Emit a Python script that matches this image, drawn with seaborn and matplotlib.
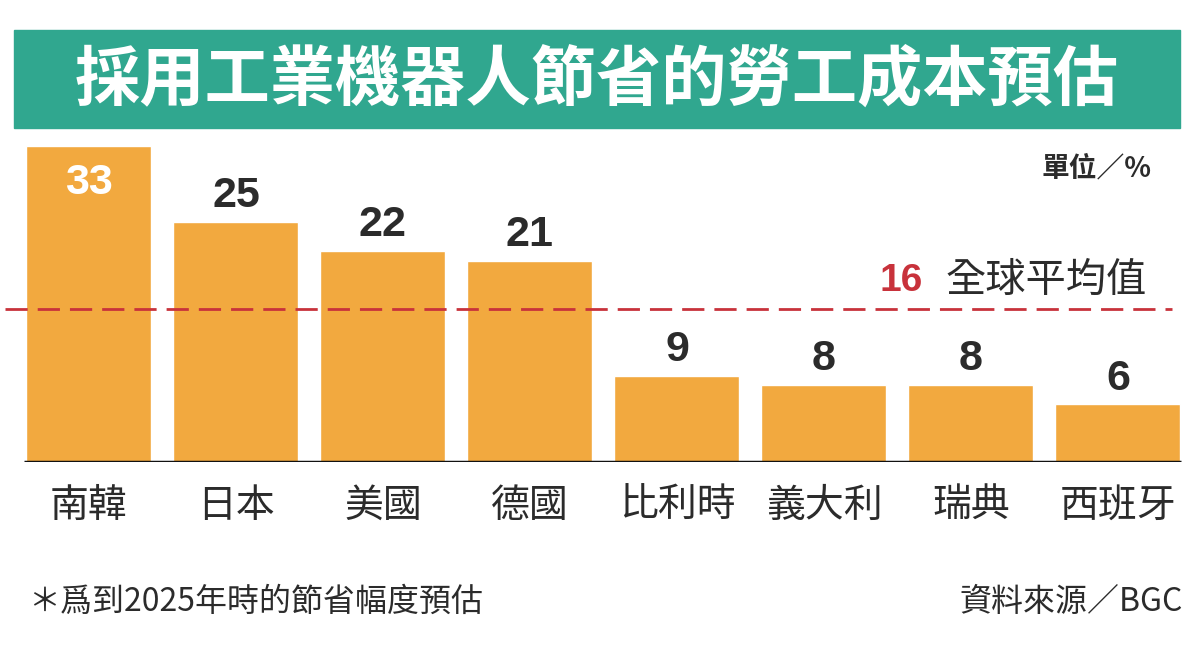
import matplotlib
matplotlib.use("Agg")
import matplotlib.pyplot as plt
import seaborn as sns
import pandas as pd
from matplotlib.patches import Rectangle

# 資料
countries = ["南韓", "日本", "美國", "德國", "比利時", "義大利", "瑞典", "西班牙"]
savings = [33, 25, 22, 21, 9, 8, 8, 6]
global_avg = 16

title = "採用工業機器人節省的勞工成本預估"
unit_text = "單位／%"
avg_text = "全球平均值"
note_text = "＊爲到2025年時的節省幅度預估"
source_text = "資料來源／BGC"

bar_color = "#f2a93f"
teal = "#30a78f"
red = "#c8323b"
dark = "#2b2b2b"

sns.set_style("white")
plt.rcParams['font.family'] = ['Noto Sans CJK TC', 'DejaVu Sans']
num_font = ['Liberation Sans', 'DejaVu Sans']

df = pd.DataFrame({"country": countries, "value": savings})

fig = plt.figure(figsize=(12, 6.47), dpi=100)
ax = fig.add_axes([0, 185 / 647, 1, (462 - 135) / 647])

sns.barplot(data=df, x="country", y="value", color=bar_color,
            width=0.85, saturation=1, ax=ax)

ax.set_xlim(-0.605, 7.558)
ax.set_ylim(0, 34.1)
sns.despine(ax=ax, left=True, bottom=True)
ax.set_yticks([])
ax.set_xlabel("")
ax.set_ylabel("")
ax.tick_params(axis="x", length=0, pad=17, labelsize=28, labelcolor=dark)

# 底線
ax.plot([-0.44, 7.43], [0, 0], color="#111111", lw=2.5, solid_capstyle="butt")

# 全球平均線
ax.axhline(global_avg, xmin=0.004, xmax=0.977, color=red, lw=2,
           dashes=(8, 3.6), zorder=3)
ax.text(0.733, global_avg + 2.9, str(global_avg), transform=ax.get_yaxis_transform(),
        color=red, fontsize=28, fontweight="bold", family=num_font,
        ha="left", va="center")
ax.text(0.956, global_avg + 2.9, avg_text, transform=ax.get_yaxis_transform(),
        color=dark, fontsize=29, ha="right", va="center")

# 數值標籤
for i, v in enumerate(savings):
    if i == 0:
        ax.text(i, v - 3.9, str(v), color="white", fontsize=31,
                fontweight="bold", family=num_font, ha="center", va="center")
    else:
        ax.text(i, v + 2.7, str(v), color=dark, fontsize=31,
                fontweight="bold", family=num_font, ha="center", va="center")

ax.text(0.96, 30.6, unit_text, transform=ax.get_yaxis_transform(),
        color=dark, fontsize=20, fontweight="bold", ha="right", va="center")

# 標題橫幅
fig.patches.append(Rectangle((14 / 1200, (647 - 128) / 647), 1166 / 1200, 98 / 647,
                             transform=fig.transFigure, color=teal, zorder=0))
fig.text(597 / 1200, (647 - 80) / 647, title, color="white", fontsize=47,
         fontweight="bold", ha="center", va="center")

fig.text(28 / 1200, (647 - 602) / 647, note_text, color=dark, fontsize=23,
         fontweight="medium", ha="left", va="center")
fig.text(1183 / 1200, (647 - 602) / 647, source_text, color=dark, fontsize=23,
         fontweight="medium", ha="right", va="center")

fig.savefig("out.png", dpi=100, facecolor="white")
